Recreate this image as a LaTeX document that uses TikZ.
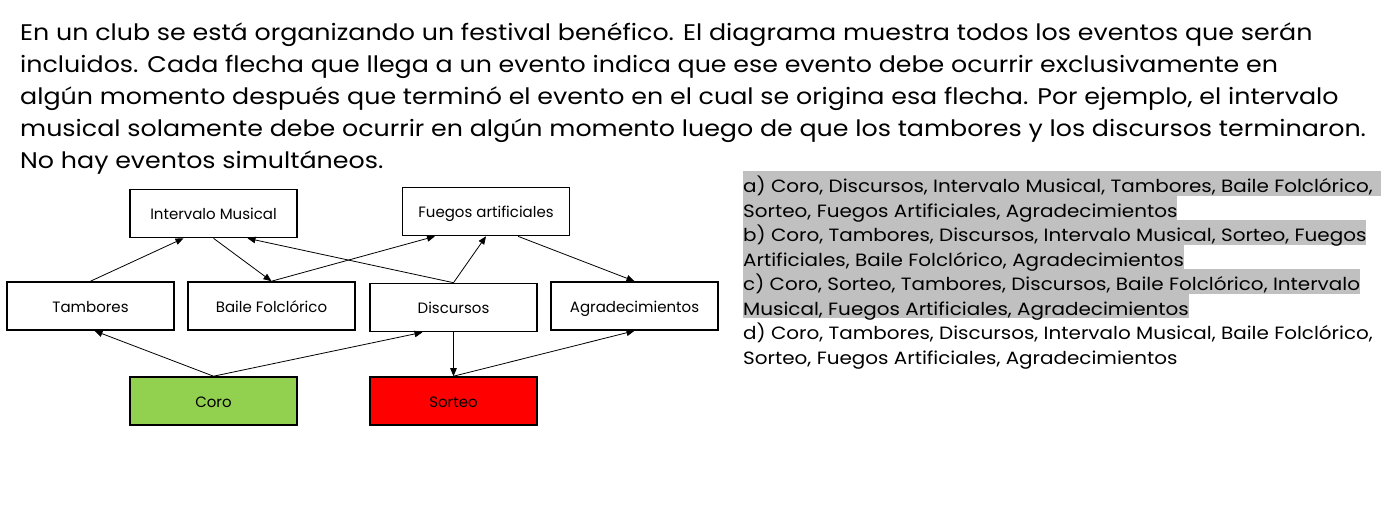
\documentclass[tikz,border=0pt]{standalone}
\usepackage{fontspec}
\setmainfont{Poppins}
\newfontfamily\ancha{Poppins}[FakeStretch=1.12]
\usetikzlibrary{arrows.meta}
\definecolor{coro}{HTML}{92D050}
\definecolor{sorteo}{HTML}{FF0000}
\definecolor{hl}{HTML}{C0C0C0}
\begin{document}
\begin{tikzpicture}[x=1pt,y=-1pt,
  evento/.style={draw,line width=1.6pt,minimum width=167pt,minimum height=48pt,
    inner sep=0pt,text height=12.6pt,text depth=0pt,font=\fontsize{15}{17}\selectfont},
  flecha/.style={draw,line width=0.8pt,-{Triangle[length=8pt,width=6.5pt]}},
  linea/.style={anchor=base west,inner sep=0pt,font=\ancha\fontsize{22.6}{26}\selectfont},
  opcion/.style={anchor=base west,inner xsep=0pt,inner ysep=0pt,text height=21.7pt,
    text depth=2.8pt,font=\ancha\fontsize{17.8}{20}\selectfont},
  marca/.style={opcion,fill=hl}]
\useasboundingbox (0,0) rectangle (1395,517);

% enunciado
\node[linea] (l1) at (20,40.7) {En un club se está organizando un festival benéfico. El diagrama muestra todos los eventos que serán};
\node[linea] (l2) at (20,72.5) {incluidos. Cada flecha que llega a un evento indica que ese evento debe ocurrir exclusivamente en};
\node[linea] (l3) at (20,104.3) {algún momento después que terminó el evento en el cual se origina esa flecha. Por ejemplo, el intervalo};
\node[linea] (l4) at (20,136) {musical solamente debe ocurrir en algún momento luego de que los tambores y los discursos terminaron.};
\node[linea] (l5) at (20,168) {No hay eventos simultáneos.};

% eventos
\node[evento] (int) at (213.5,213.5) {Intervalo Musical};
\node[evento] (fue) at (486,211.5) {Fuegos artificiales};
\node[evento] (tam) at (90.5,306) {Tambores};
\node[evento] (bai) at (271.5,306) {Baile Folclórico};
\node[evento] (dis) at (453.5,307.5) {Discursos};
\node[evento] (agr) at (634.5,306) {Agradecimientos};
\node[evento,fill=coro] (cor) at (213.5,401) {Coro};
\node[evento,fill=sorteo] (sor) at (453.5,401) {Sorteo};

\path[flecha] (tam.north) -- ([xshift=-30]int.south);
\path[flecha] (int.south) -- (bai.north);
\path[flecha] (bai.north) -- ([xshift=-51]fue.south);
\path[flecha] (dis.north) -- ([xshift=34]int.south);
\path[flecha] (dis.north) -- (fue.south);
\path[flecha] ([xshift=32]fue.south) -- (agr.north);
\path[flecha] (cor.north) -- ([xshift=4]tam.south);
\path[flecha] (cor.north) -- ([xshift=-31]dis.south);
\path[flecha] (dis.south) -- (sor.north);
\path[flecha] (sor.north) -- (agr.south);

% opciones (de abajo hacia arriba, para no tapar los descendentes)
\node[marca] (c2) at (743,315.2) {Musical, Fuegos Artificiales, Agradecimientos};
\node[marca] (c1) at (743,290.7) {c) Coro, Sorteo, Tambores, Discursos, Baile Folclórico, Intervalo\ };
\node[marca] (b2) at (743,266.2) {Artificiales, Baile Folclórico, Agradecimientos};
\node[marca] (b1) at (743,241.7) {b) Coro, Tambores, Discursos, Intervalo Musical, Sorteo, Fuegos\ };
\node[marca] (a2) at (743,217.2) {Sorteo, Fuegos Artificiales, Agradecimientos};
\node[marca] (a1) at (743,192.7) {a) Coro, Discursos, Intervalo Musical, Tambores, Baile Folclórico,\ \,};
\node[opcion] (d1) at (743,339.7) {d) Coro, Tambores, Discursos, Intervalo Musical, Baile Folclórico,};
\node[opcion] (d2) at (743,364.2) {Sorteo, Fuegos Artificiales, Agradecimientos};
\end{tikzpicture}
\end{document}
